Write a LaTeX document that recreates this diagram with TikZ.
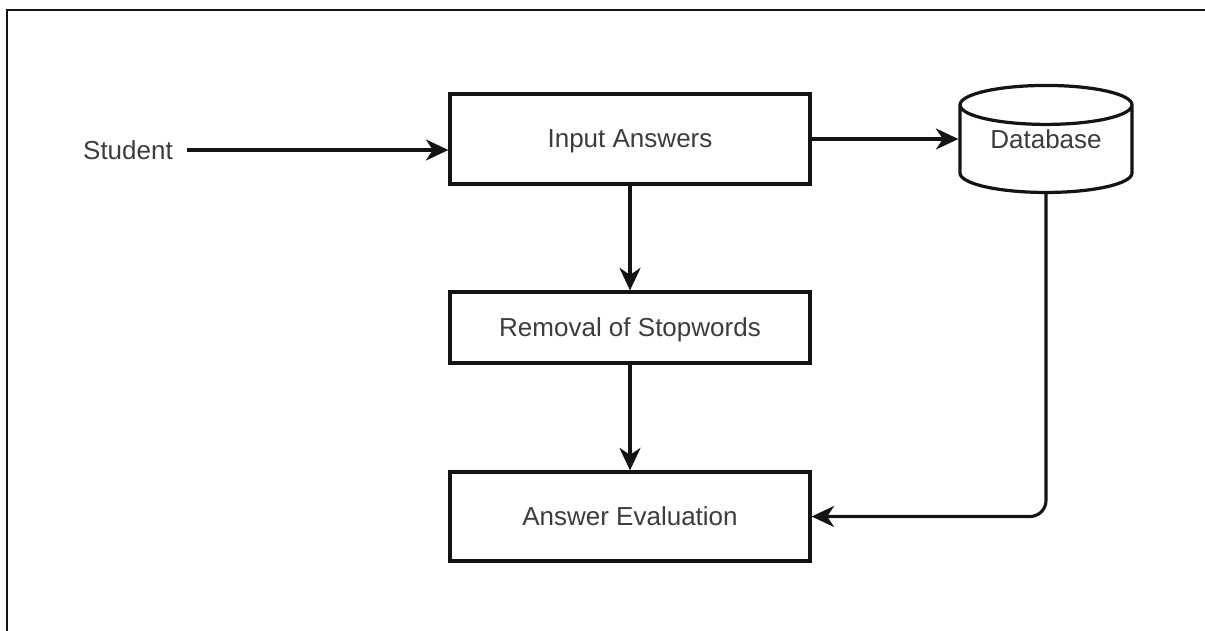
\documentclass[tikz,border=0pt]{standalone}
\usepackage{fontspec}
\setmainfont{Liberation Sans}
\usetikzlibrary{arrows.meta,positioning,shapes.geometric}
\definecolor{lineDark}{RGB}{20,20,20}
\definecolor{textGray}{RGB}{60,60,60}
\newcommand{\flowfont}{\fontsize{18.5}{22}\selectfont}

\begin{document}
\begin{tikzpicture}[x=0.025cm,y=-0.025cm,
  procBox/.style={draw=lineDark,line width=2.3pt,minimum width=9cm,inner sep=0pt,text depth=0pt,text=textGray,font=\flowfont},
  dbNode/.style={cylinder,shape border rotate=90,aspect=0.35,draw=lineDark,line width=2.3pt,minimum width=4.3cm,minimum height=2.675cm,inner sep=0pt,text depth=0.5cm,text=textGray,font=\flowfont},
  flowArrow/.style={draw=lineDark,line width=2.2pt,-{Stealth[length=16pt,width=15pt,inset=5pt]}}]
\useasboundingbox (0,0) rectangle (1205,631);
% frame
\draw[line width=1.8pt,lineDark] (7,631) -- (7,10) -- (1205,10);
% nodes
\node[text=textGray,font=\flowfont,inner sep=0.35cm] (student) at (128,150) {Student};
\node[procBox,minimum height=2.25cm] (input) at (630,139) {Input Answers};
\node[procBox,minimum height=1.775cm] (removal) at (630,327.5) {Removal of Stopwords};
\node[procBox,minimum height=2.225cm] (answer) at (630,516.5) {Answer Evaluation};
\node[dbNode] (db) at (1046,149.5) {Database};
% connectors
\draw[flowArrow] (student.east) -- (student.east -| input.west);
\draw[flowArrow] (input.east) -- (input.east -| db.west);
\draw[flowArrow] (input.south) -- (removal.north);
\draw[flowArrow] (removal.south) -- (answer.north);
\draw[flowArrow,rounded corners=0.4cm] (db.south) |- (answer.east);
\end{tikzpicture}
\end{document}
